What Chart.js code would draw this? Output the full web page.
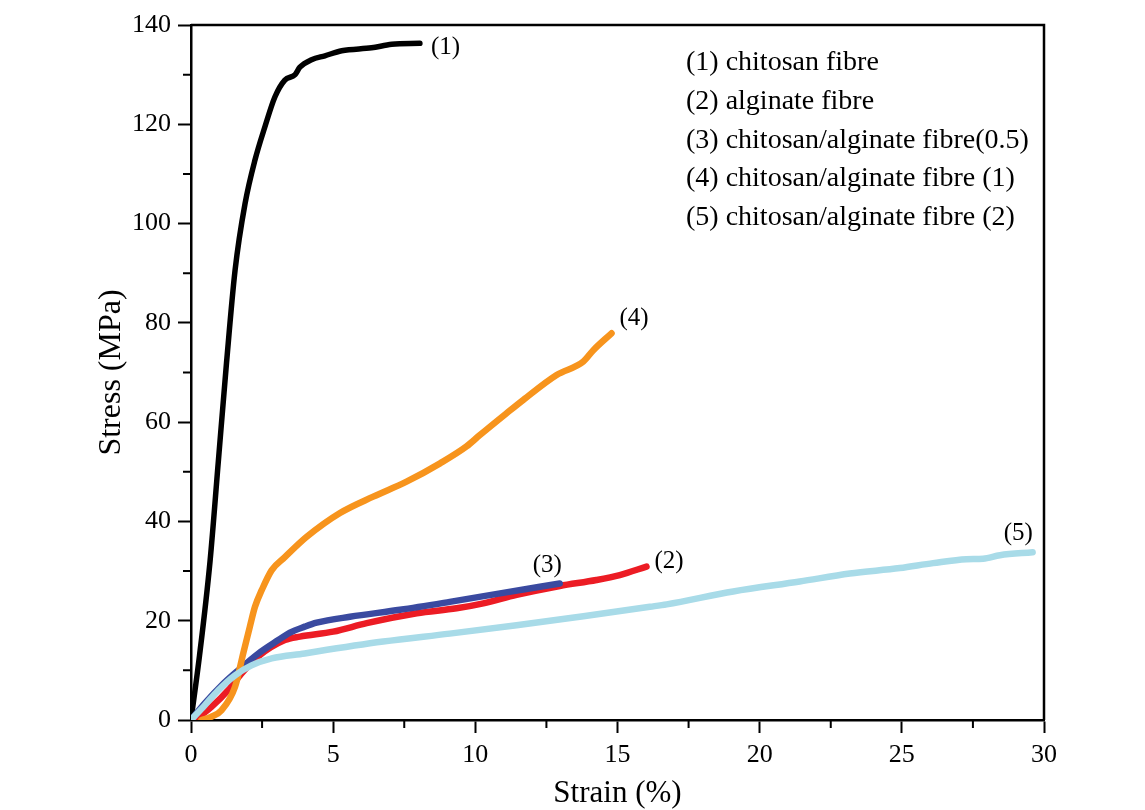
<!DOCTYPE html>
<html>
<head>
<meta charset="utf-8">
<script src="https://cdn.jsdelivr.net/npm/chart.js@4.4.1/dist/chart.umd.min.js"></script>
<style>
  html, body { margin: 0; padding: 0; background: #fff; }
  #wrap { width: 1145px; height: 810px; position: relative; }
</style>
</head>
<body>
<div id="wrap"><canvas id="stressChart"></canvas></div>
<script>
// (1) chitosan fibre
const strain1 = [0, 0.3, 0.67, 0.96, 1.25, 1.55, 1.9, 2.25, 2.6, 2.95, 3.3, 3.66, 3.83, 4.24, 4.71, 5.3, 6.35, 7.06, 8.05];
const stress1 = [0, 13, 32, 52, 72, 90.6, 104, 112.8, 119.5, 125.5, 128.9, 130, 131.5, 133, 133.8, 134.8, 135.4, 136.1, 136.3];
// (2) alginate fibre
const strain2 = [0, 0.3, 0.73, 1.31, 1.78, 2.36, 3.3, 3.83, 5.0, 6.18, 7.94, 9.34, 10.28, 11.45, 12.97, 14.26, 15.08, 16.02];
const stress2 = [0, 0.8, 2.7, 6, 9.4, 12.8, 16.1, 16.8, 17.8, 19.5, 21.5, 22.5, 23.5, 25.2, 27.0, 28.2, 29.2, 30.9];
// (3) chitosan/alginate fibre(0.5)
const strain3 = [0, 0.49, 1.08, 1.66, 2.37, 3.07, 3.48, 4.0, 4.42, 5.59, 7.35, 9.1, 10.87, 12.97];
const stress3 = [0, 3.4, 7, 10, 13.4, 16.1, 17.6, 18.8, 19.6, 20.8, 22.2, 23.8, 25.5, 27.5];
// (4) chitosan/alginate fibre (1)
const strain4 = [0.37, 0.7, 1.08, 1.55, 1.84, 2.07, 2.25, 2.49, 2.84, 3.3, 4.07, 5.24, 6.41, 7.58, 8.76, 9.69, 10.16, 11.1, 11.69, 12.86, 13.8, 14.15, 14.79];
const stress4 = [0, 0.6, 2, 6.7, 13.5, 18.8, 22.8, 26.2, 30.2, 32.8, 36.9, 41.7, 45, 48, 51.7, 55.1, 57.4, 61.8, 64.5, 69.5, 72.2, 74.5, 77.9];
// (5) chitosan/alginate fibre (2)
const strain5 = [0, 0.49, 0.96, 1.55, 2.13, 2.84, 4.0, 4.42, 6.76, 9.1, 11.45, 13.8, 16.14, 16.73, 19.07, 21.41, 23.17, 24.93, 26.1, 27.27, 27.86, 28.45, 29.6];
const stress5 = [0, 3, 6, 9, 11, 12.4, 13.4, 13.8, 15.8, 17.4, 19.1, 20.9, 22.8, 23.3, 25.9, 27.9, 29.5, 30.6, 31.6, 32.4, 32.5, 33.2, 33.8];

const legendLines = [
    '(1) chitosan fibre',
    '(2) alginate fibre',
    '(3) chitosan/alginate fibre(0.5)',
    '(4) chitosan/alginate fibre (1)',
    '(5) chitosan/alginate fibre (2)'
];
const curveTags = ['(1)', '(2)', '(3)', '(4)', '(5)'];

const serif = "'Liberation Serif', 'Times New Roman', serif";

function pts(xs, ys) {
    return xs.map((x, i) => ({ x: x, y: ys[i] }));
}

function line(label, xs, ys, color, width, order) {
    return {
        label: label,
        data: pts(xs, ys),
        borderColor: color,
        backgroundColor: color,
        borderWidth: width,
        borderCapStyle: 'round',
        borderJoinStyle: 'round',
        pointRadius: 0,
        showLine: true,
        cubicInterpolationMode: 'monotone',
        order: order
    };
}

// bingkai atas/kanan, minor tick, label kurva dan legenda teks
const decorPlugin = {
    id: 'decor',
    afterDraw(chart) {
        const c = chart.ctx;
        const a = chart.chartArea;
        const xs = chart.scales.x;
        const ys = chart.scales.y;
        c.save();
        c.strokeStyle = '#000';
        c.lineWidth = 2.5;
        c.beginPath();
        c.moveTo(a.left, a.top);
        c.lineTo(a.right, a.top);
        c.lineTo(a.right, a.bottom);
        c.stroke();

        // minor ticks
        c.lineWidth = 2;
        c.beginPath();
        xs.ticks.forEach(t => {
            if (t.value % 5 !== 0) {
                const px = xs.getPixelForValue(t.value);
                c.moveTo(px, a.bottom);
                c.lineTo(px, a.bottom + 8);
            }
        });
        ys.ticks.forEach(t => {
            if (t.value % 20 !== 0) {
                const py = ys.getPixelForValue(t.value);
                c.moveTo(a.left, py);
                c.lineTo(a.left - 8, py);
            }
        });
        c.stroke();

        // label di ujung tiap kurva
        c.fillStyle = '#000';
        c.font = '25px ' + serif;
        c.textBaseline = 'middle';
        c.textAlign = 'left';
        const ends = [
            [strain1, stress1, 11, 4],
            [strain2, stress2, 8, -5],
            [strain3, stress3, -27, -18],
            [strain4, stress4, 8, -15],
            [strain5, stress5, -29, -19]
        ];
        ends.forEach((e, i) => {
            const n = e[0].length - 1;
            const px = xs.getPixelForValue(e[0][n]);
            const py = ys.getPixelForValue(e[1][n]);
            c.fillText(curveTags[i], px + e[2], py + e[3]);
        });

        // legenda teks
        c.font = '28px ' + serif;
        legendLines.forEach((txt, i) => {
            c.fillText(txt, 686, 63 + i * 38.7);
        });
        c.restore();
    }
};

const ctx = document.getElementById('stressChart');
new Chart(ctx, {
    type: 'scatter',
    data: {
        datasets: [
            line('(1) chitosan fibre', strain1, stress1, '#000000', 5.5, 5),
            line('(2) alginate fibre', strain2, stress2, '#ec1c24', 6.5, 4),
            line('(3) chitosan/alginate fibre(0.5)', strain3, stress3, '#3a4aa0', 6.5, 3),
            line('(4) chitosan/alginate fibre (1)', strain4, stress4, '#f7941d', 6.5, 2),
            line('(5) chitosan/alginate fibre (2)', strain5, stress5, '#a8dbe8', 6.5, 1)
        ]
    },
    options: {
        responsive: true,
        maintainAspectRatio: false,
        animation: false,
        layout: { padding: { top: 25, right: 101, left: 0, bottom: 0 } },
        plugins: {
            legend: { display: false },
            tooltip: { enabled: false }
        },
        scales: {
            x: {
                type: 'linear',
                min: 0,
                max: 30,
                border: { display: true, color: '#000', width: 2.5 },
                grid: {
                    drawOnChartArea: false,
                    drawTicks: true,
                    tickLength: 13,
                    tickWidth: 2,
                    tickColor: (c) => (c.tick && c.tick.value % 5 === 0) ? '#000' : 'rgba(0,0,0,0)'
                },
                ticks: {
                    stepSize: 2.5,
                    autoSkip: false,
                    maxRotation: 0,
                    padding: 7,
                    color: '#000',
                    font: { family: serif, size: 26 },
                    callback: (v) => v % 5 === 0 ? v : ''
                },
                title: {
                    display: true,
                    text: 'Strain (%)',
                    color: '#000',
                    font: { family: serif, size: 31, lineHeight: 1 },
                    padding: { top: 0, bottom: 1 }
                },
                afterFit: (s) => { s.height = 90; }
            },
            y: {
                type: 'linear',
                min: 0,
                max: 140,
                border: { display: true, color: '#000', width: 2.5 },
                grid: {
                    drawOnChartArea: false,
                    drawTicks: true,
                    tickLength: 13,
                    tickWidth: 2,
                    tickColor: (c) => (c.tick && c.tick.value % 20 === 0) ? '#000' : 'rgba(0,0,0,0)'
                },
                ticks: {
                    stepSize: 10,
                    autoSkip: false,
                    padding: 7,
                    color: '#000',
                    font: { family: serif, size: 26 },
                    callback: (v) => v % 20 === 0 ? v : ''
                },
                title: {
                    display: true,
                    text: 'Stress (MPa)',
                    color: '#000',
                    font: { family: serif, size: 32, lineHeight: 1 },
                    padding: { top: 96, bottom: 0 }
                },
                afterFit: (s) => { s.width = 191; }
            }
        }
    },
    plugins: [decorPlugin]
});
</script>
</body>
</html>
